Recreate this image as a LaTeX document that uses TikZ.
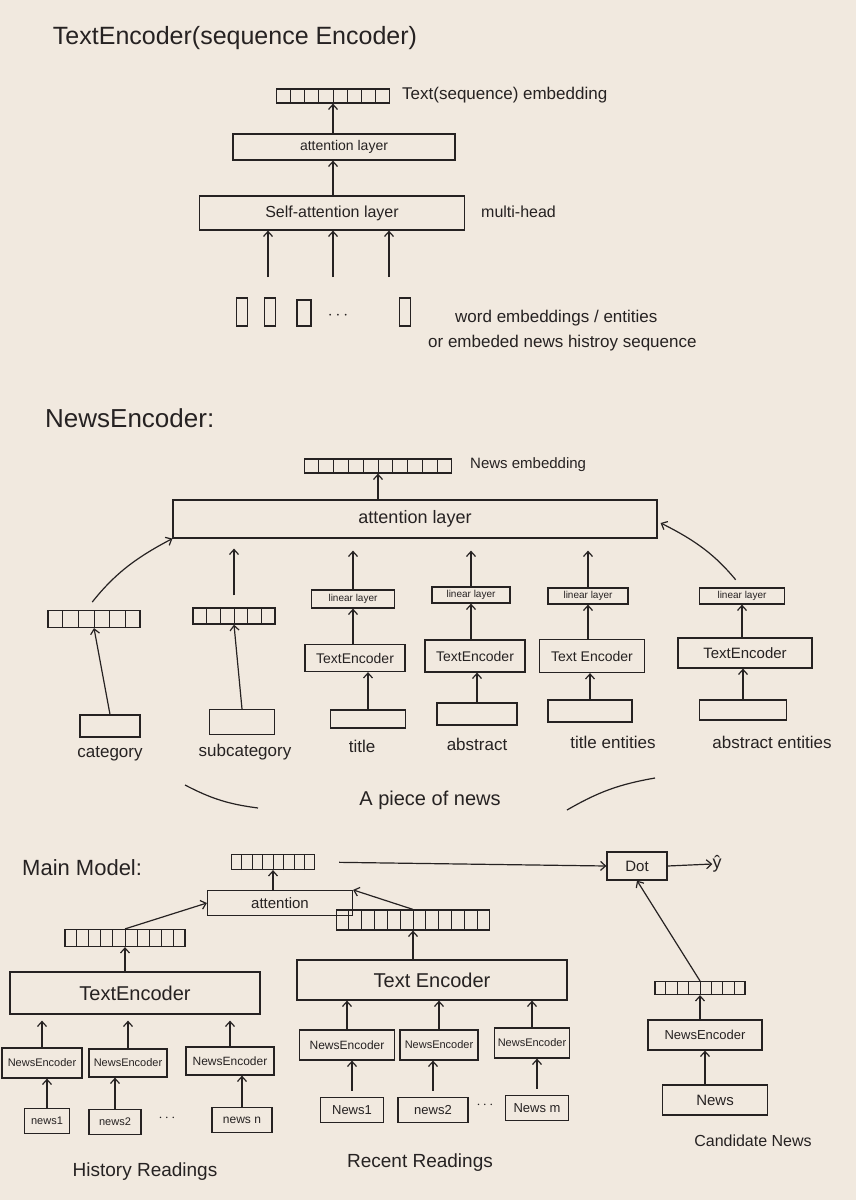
\documentclass[tikz,border=0pt]{standalone}
\usepackage{fontspec}
\setmainfont{Liberation Sans}
\usetikzlibrary{arrows.meta,calc}
\definecolor{paper}{RGB}{241,233,223}
\definecolor{inkc}{RGB}{38,34,34}
\newcommand\hfs[1]{\fontsize{#1}{#1}\selectfont}
\newcommand\cellsof[2]{%
  \pgfmathtruncatemacro\cellsm{#2-1}%
  \foreach \i in {1,...,\cellsm}{\draw[ink,line width=0.9pt] ($(#1.south west)!\i/#2!(#1.south east)$) -- ($(#1.north west)!\i/#2!(#1.north east)$);}}
\tikzset{
  ink/.style={line width=1.2pt, draw=inkc},
  box/.style={ink, rectangle, inner sep=0pt, align=center, text=inkc},
  vecbox/.style={box},
  lbl/.style={inner sep=0pt, text=inkc},
  arr/.style={ink, -{Straight Barb[length=5pt,width=9pt]}},
}
\begin{document}
\begin{tikzpicture}[x=1pt,y=-1pt]
\fill[paper] (0,0) rectangle (856,1200);
\useasboundingbox (0,0) rectangle (856,1200);

% ---------------- TextEncoder section
\node[lbl, font=\hfs{25}] (t1) at (235,38) {TextEncoder(sequence Encoder)};
\node[vecbox, minimum width=113pt, minimum height=14pt] (v1) at (333,96) {};
\cellsof{v1}{8}
\node[lbl, anchor=west, font=\hfs{17}] (v1l) at (402,95) {Text(sequence) embedding};
\node[box, minimum width=222pt, minimum height=26pt, font=\hfs{14}] (att1) at (344,147) {attention layer};
\node[box, minimum width=265pt, minimum height=34pt, font=\hfs{16}] (sa1) at (332,213) {Self-attention layer};
\node[lbl, anchor=west, font=\hfs{16}] (mh) at (481,212) {multi-head};
\draw[arr] (att1.north -| v1.south) -- (v1.south);
\draw[arr] (sa1.north -| v1.south) -- (v1.south |- att1.south);
\coordinate (a1) at (268,277);
\coordinate (a2) at (333,277);
\coordinate (a3) at (389,277);
\foreach \a in {a1,a2,a3}{\draw[arr] (\a) -- (\a |- sa1.south);}
\node[box, minimum width=11pt, minimum height=28pt] (w1) at (242,312) {};
\node[box, minimum width=11pt, minimum height=28pt] (w2) at (270,312) {};
\node[box, minimum width=14pt, minimum height=26pt] (w3) at (304,313) {};
\node[lbl, font=\hfs{16}] (wd) at (338,316) {$\cdots$};
\node[box, minimum width=11pt, minimum height=28pt] (wn) at (405,312) {};
\node[lbl, anchor=west, font=\hfs{17}] (wl1) at (455,318) {word embeddings / entities};
\node[lbl, anchor=west, font=\hfs{17}] (wl2) at (428,343) {or embeded news histroy sequence};

% ---------------- NewsEncoder section
\node[lbl, anchor=west, font=\hfs{26}] (t2) at (45,418) {NewsEncoder:};
\node[vecbox, minimum width=147pt, minimum height=14pt] (v2) at (378,466) {};
\cellsof{v2}{10}
\node[lbl, anchor=west, font=\hfs{15}] (v2l) at (470,465) {News embedding};
\node[box, minimum width=484pt, minimum height=38pt, font=\hfs{18}] (att2) at (415,519) {attention layer};
\draw[arr] (att2.north -| v2.south) -- (v2.south);

\node[vecbox, minimum width=92pt, minimum height=17pt] (catv) at (94,619) {};
\cellsof{catv}{6}
\node[vecbox, minimum width=82pt, minimum height=16pt] (subv) at (234,616) {};
\cellsof{subv}{6}

\node[box, minimum width=83pt, minimum height=18pt, font=\hfs{10}] (lin1) at (353,599) {linear layer};
\node[box, minimum width=78pt, minimum height=16pt, font=\hfs{10}] (lin2) at (471,595) {linear layer};
\node[box, minimum width=80pt, minimum height=16pt, font=\hfs{10}] (lin3) at (588,596) {linear layer};
\node[box, minimum width=85pt, minimum height=16pt, font=\hfs{10}] (lin4) at (742,596) {linear layer};

\node[box, minimum width=100pt, minimum height=27pt, font=\hfs{14}] (te1) at (355,658) {TextEncoder};
\node[box, minimum width=100pt, minimum height=32pt, font=\hfs{14}] (te2) at (475,656) {TextEncoder};
\node[box, minimum width=105pt, minimum height=33pt, font=\hfs{14}] (te3) at (592,656) {Text Encoder};
\node[box, minimum width=134pt, minimum height=30pt, font=\hfs{15}] (te4) at (745,653) {TextEncoder};

\node[box, minimum width=60pt, minimum height=22pt] (in1) at (110,726) {};
\node[box, minimum width=65pt, minimum height=25pt] (in2) at (242,722) {};
\node[box, minimum width=75pt, minimum height=18pt] (in3) at (368,719) {};
\node[box, minimum width=80pt, minimum height=22pt] (in4) at (477,714) {};
\node[box, minimum width=84pt, minimum height=22pt] (in5) at (590,711) {};
\node[box, minimum width=87pt, minimum height=20pt] (in6) at (743,710) {};

\node[lbl, font=\hfs{17}] (l1) at (110,754) {category};
\node[lbl, font=\hfs{17}] (l2) at (245,752) {subcategory};
\node[lbl, font=\hfs{17}] (l3) at (362,746) {title};
\node[lbl, font=\hfs{17}] (l4) at (477,744) {abstract};
\node[lbl, font=\hfs{17}] (l5) at (613,742) {title entities};
\node[lbl, font=\hfs{17}] (l6) at (772,742) {abstract entities};

\draw[arr] (in1.north) -- (catv.south);
\draw[arr] (in2.north) -- (subv.south);
\draw[arr] (in3.north) -- (in3.north |- te1.south);
\draw[arr] (in4.north) -- (in4.north |- te2.south);
\draw[arr] (in5.north) -- (in5.north |- te3.south);
\draw[arr] (in6.north) -- (in6.north |- te4.south);
\draw[arr] (te1.north -| lin1.south) -- (lin1.south);
\draw[arr] (te2.north -| lin2.south) -- (lin2.south);
\draw[arr] (te3.north -| lin3.south) -- (lin3.south);
\draw[arr] (te4.north -| lin4.south) -- (lin4.south);
\draw[arr, shorten >=12pt] (lin1.north) -- (lin1.north |- att2.south);
\draw[arr, shorten >=12pt] (lin2.north) -- (lin2.north |- att2.south);
\draw[arr, shorten >=12pt] (lin3.north) -- (lin3.north |- att2.south);
\draw[arr, shorten >=10pt, shorten <=12pt] (subv.north) -- (subv.north |- att2.south);
\draw[arr, shorten <=10pt] ($(catv.north)+(-8,0)$) to[bend left=12] (att2.south west);
\draw[arr, shorten <=10pt] (lin4.north) to[bend right=12] ($(att2.east)+(3,4)$);

\node[lbl, font=\hfs{20}] (pn) at (430,800) {A piece of news};
\coordinate (c1) at (185,785);
\coordinate (c2) at (258,808);
\coordinate (c3) at (567,810);
\coordinate (c4) at (655,778);
\draw[ink] (c1) to[bend right=10] (c2);
\draw[ink] (c3) to[bend left=10] (c4);

% ---------------- Main Model section
\node[lbl, anchor=west, font=\hfs{22}] (t3) at (22,868) {Main Model:};
\node[vecbox, minimum width=83pt, minimum height=15pt] (mv) at (273,862) {};
\cellsof{mv}{8}
\node[box, minimum width=60pt, minimum height=28pt, font=\hfs{15}] (dot) at (637,866) {Dot};
\node[lbl, font=\hfs{18}] (yh) at (717,864) {ŷ};
\draw[arr, shorten <=24pt] (mv.east) -- (dot.west);
\draw[arr] (dot.east) -- (yh.west);

\node[box, minimum width=145pt, minimum height=25pt, font=\hfs{15}] (att3) at (280,903) {attention};
\draw[arr] (att3.north -| mv.south) -- (mv.south);
\node[vecbox, minimum width=120pt, minimum height=17pt] (hv) at (125,938) {};
\cellsof{hv}{10}
\node[vecbox, minimum width=153pt, minimum height=20pt] (rv) at (413,920) {};
\cellsof{rv}{12}
\draw[arr] (hv.north) -- (att3.west);
\draw[arr] (rv.north) -- (att3.north east);

\node[box, minimum width=250pt, minimum height=42pt, font=\hfs{20}] (te5) at (135,993) {TextEncoder};
\node[box, minimum width=270pt, minimum height=40pt, font=\hfs{20}] (te6) at (432,980) {Text Encoder};
\draw[arr] (te5.north -| hv.south) -- (hv.south);
\draw[arr] (te6.north -| rv.south) -- (rv.south);

\node[vecbox, minimum width=90pt, minimum height=13pt] (cv) at (700,988) {};
\cellsof{cv}{8}
\node[box, minimum width=114pt, minimum height=30pt, font=\hfs{13}] (cne) at (705,1035) {NewsEncoder};
\node[box, minimum width=105pt, minimum height=30pt, font=\hfs{15}] (cn) at (715,1100) {News};
\node[lbl, font=\hfs{16}] (cl) at (753,1141) {Candidate News};
\draw[arr] (cv.north) -- (dot.south);
\draw[arr] (cne.north -| cv.south) -- (cv.south);
\draw[arr] (cn.north -| cne.south) -- (cne.south);

% history readings
\node[box, minimum width=80pt, minimum height=30pt, font=\hfs{11}] (hne1) at (42,1063) {NewsEncoder};
\node[box, minimum width=78pt, minimum height=28pt, font=\hfs{11}] (hne2) at (128,1063) {NewsEncoder};
\node[box, minimum width=88pt, minimum height=28pt, font=\hfs{12}] (hne3) at (230,1061) {NewsEncoder};
\node[box, minimum width=45pt, minimum height=25pt, font=\hfs{11}] (hn1) at (47,1121) {news1};
\node[box, minimum width=52pt, minimum height=25pt, font=\hfs{11}] (hn2) at (115,1122) {news2};
\node[lbl, font=\hfs{14}] (hd) at (167,1118) {$\cdots$};
\node[box, minimum width=60pt, minimum height=25pt, font=\hfs{12}] (hn3) at (242,1120) {news n};
\node[lbl, font=\hfs{19}] (hl) at (145,1172) {History Readings};
\foreach \n in {1,2,3}{
  \draw[arr] (hn\n.north) -- (hn\n.north |- hne\n.south);
  \draw[arr, shorten >=6pt] (hne\n.north) -- (hne\n.north |- te5.south);
}

% recent readings
\node[box, minimum width=95pt, minimum height=30pt, font=\hfs{12}] (rne1) at (347,1045) {NewsEncoder};
\node[box, minimum width=78pt, minimum height=30pt, font=\hfs{11}] (rne2) at (439,1045) {NewsEncoder};
\node[box, minimum width=75pt, minimum height=30pt, font=\hfs{11}] (rne3) at (532,1043) {NewsEncoder};
\node[box, minimum width=63pt, minimum height=25pt, font=\hfs{13}] (rn1) at (352,1110) {News1};
\node[box, minimum width=70pt, minimum height=25pt, font=\hfs{13}] (rn2) at (433,1110) {news2};
\node[lbl, font=\hfs{14}] (rd) at (485,1105) {$\cdots$};
\node[box, minimum width=63pt, minimum height=25pt, font=\hfs{13}] (rn3) at (537,1108) {News m};
\node[lbl, font=\hfs{19}] (rl) at (420,1163) {Recent Readings};
\foreach \n in {1,2,3}{
  \draw[arr, shorten <=6pt] (rn\n.north) -- (rn\n.north |- rne\n.south);
  \draw[arr] (rne\n.north) -- (rne\n.north |- te6.south);
}
\end{tikzpicture}
\end{document}
